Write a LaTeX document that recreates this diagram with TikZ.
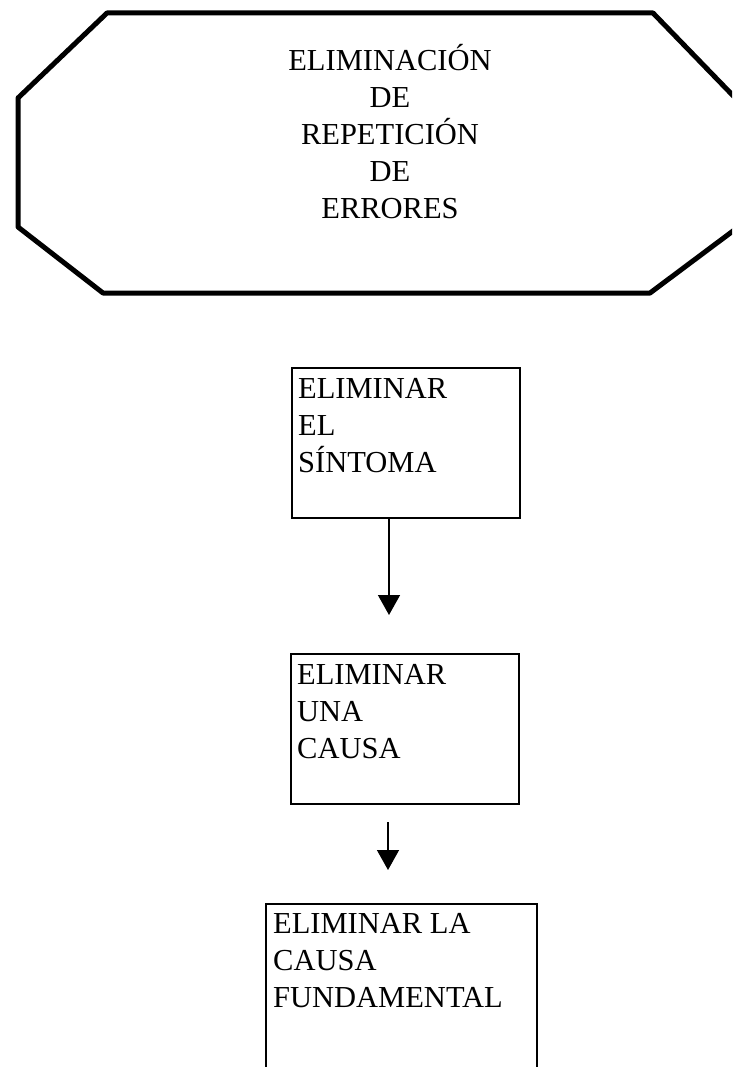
\documentclass[tikz,border=0pt]{standalone}
\usepackage{fontspec}
\setmainfont{Liberation Serif}
\usetikzlibrary{arrows.meta,positioning,calc}

\tikzset{
  stepbox/.style={draw, line width=1.5pt, inner sep=0pt, anchor=north west},
  boxtext/.style={align=left, inner sep=0pt, anchor=base west, font=\fontsize{30.5}{37}\selectfont},
  flow/.style={-{Triangle[width=22pt,length=20pt]}, line width=1.5pt},
}

\begin{document}
\begin{tikzpicture}[x=1pt, y=-1pt]
  \useasboundingbox (0,0) rectangle (732,1067);
  \clip (0,0) rectangle (732,1067);

  % Octagon
  \draw[line width=5pt, line join=round]
    (107,13) -- (653,13) -- (745,108) -- (745,222) -- (650,293)
    -- (103,293) -- (18,227) -- (18,98) -- cycle;
  \node[font=\fontsize{30.5}{37}\selectfont, align=center, inner sep=0pt, anchor=base] (titulo) at (390,219)
    {ELIMINACIÓN\\DE\\REPETICIÓN\\DE\\ERRORES};

  % Boxes
  \node[stepbox, minimum width=228, minimum height=150] (sintoma) at (291,367) {};
  \node[boxtext] (sintomatxt) at ([shift={(7,105)}]sintoma.north west) {ELIMINAR\\EL\\SÍNTOMA};

  \node[stepbox, minimum width=228, minimum height=150] (causa) at (290,653) {};
  \node[boxtext] (causatxt) at ([shift={(7,105)}]causa.north west) {ELIMINAR\\UNA\\CAUSA};

  \node[stepbox, minimum width=271, minimum height=220] (fundamental) at (265,903) {};
  \node[boxtext] (fundamentaltxt) at ([shift={(8,104)}]fundamental.north west) {ELIMINAR LA\\CAUSA\\FUNDAMENTAL};

  % Arrows
  \coordinate (tip1) at (389,615);
  \draw[flow] (sintoma.south -| tip1) -- (tip1);
  \coordinate (start2) at (388,822);
  \coordinate (tip2) at (388,870);
  \draw[flow] (start2) -- (tip2);
\end{tikzpicture}
\end{document}
